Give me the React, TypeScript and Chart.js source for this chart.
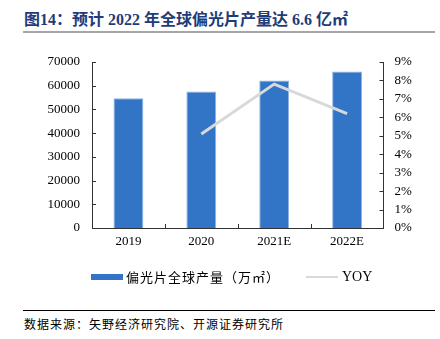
import React, { useEffect, useRef } from "react";
import { Chart, registerables } from "chart.js";

Chart.register(...registerables);

const categories = ["2019", "2020", "2021E", "2022E"];
const production = [54700, 57600, 62200, 66000];
const yoy = [null, 5.1, 7.8, 6.2];
const leftTicks = [0, 10000, 20000, 30000, 40000, 50000, 60000, 70000];
const rightTicks = [0, 1, 2, 3, 4, 5, 6, 7, 8, 9];

const serif = "'Liberation Serif', 'Times New Roman', 'Noto Sans CJK SC', serif";

const innerTicks = {
  id: "innerTicks",
  afterDraw(chart: any) {
    const ctx = chart.ctx;
    const { left, right, bottom } = chart.chartArea;
    ctx.save();
    ctx.strokeStyle = "#333";
    ctx.lineWidth = 1;
    const y = chart.scales.y;
    const y1 = chart.scales.y1;
    const x = chart.scales.x;
    leftTicks.forEach((v) => {
      const p = Math.round(y.getPixelForValue(v)) + 0.5;
      ctx.beginPath();
      ctx.moveTo(left, p);
      ctx.lineTo(left + 4, p);
      ctx.stroke();
    });
    rightTicks.forEach((v) => {
      const p = Math.round(y1.getPixelForValue(v)) + 0.5;
      ctx.beginPath();
      ctx.moveTo(right - 4, p);
      ctx.lineTo(right, p);
      ctx.stroke();
    });
    for (let i = 1; i < categories.length; i++) {
      const a = x.getPixelForValue(i - 1);
      const b = x.getPixelForValue(i);
      const p = Math.round((a + b) / 2) + 0.5;
      ctx.beginPath();
      ctx.moveTo(p, bottom);
      ctx.lineTo(p, bottom - 4);
      ctx.stroke();
    }
    ctx.restore();
  },
};

export default function App() {
  const ref = useRef<HTMLCanvasElement>(null);

  useEffect(() => {
    if (!ref.current) return;
    const chart = new Chart(ref.current, {
      type: "bar",
      data: {
        labels: categories,
        datasets: [
          {
            type: "line",
            label: "YOY",
            data: yoy as any,
            yAxisID: "y1",
            borderColor: "#D9D9D9",
            backgroundColor: "#D9D9D9",
            borderWidth: 3,
            pointRadius: 0,
            tension: 0,
            order: 0,
          } as any,
          {
            type: "bar",
            label: "偏光片全球产量（万㎡）",
            data: production,
            yAxisID: "y",
            backgroundColor: "#3274C5",
            borderColor: "#8FB4E3",
            borderWidth: 1,
            barPercentage: 0.41,
            categoryPercentage: 1,
            order: 1,
          },
        ],
      },
      options: {
        animation: false,
        responsive: false,
        maintainAspectRatio: false,
        layout: { padding: { top: 22, left: 0, right: 0, bottom: 0 } },
        plugins: { legend: { display: false }, tooltip: { enabled: false } },
        scales: {
          x: {
            offset: true,
            grid: { display: false, drawTicks: false },
            border: { display: true, color: "#333", width: 1 },
            ticks: { color: "#000", font: { family: serif, size: 13 }, padding: 6 },
            afterFit: (s: any) => { s.height = 72; },
          },
          y: {
            position: "left",
            min: 0,
            max: 70000,
            afterBuildTicks: (s: any) => { s.ticks = leftTicks.map((v) => ({ value: v })); },
            grid: { display: false, drawTicks: false },
            border: { display: true, color: "#333", width: 1 },
            ticks: {
              color: "#000",
              font: { family: serif, size: 13 },
              padding: 12,
              autoSkip: false,
              callback: (v: any) => String(v),
            },
            afterFit: (s: any) => { s.width = 92; },
          },
          y1: {
            position: "right",
            min: 0,
            max: 9,
            afterBuildTicks: (s: any) => { s.ticks = rightTicks.map((v) => ({ value: v })); },
            grid: { display: false, drawTicks: false },
            border: { display: true, color: "#333", width: 1 },
            ticks: {
              color: "#000",
              font: { family: serif, size: 13 },
              padding: 11,
              autoSkip: false,
              callback: (v: any) => `${v}%`,
            },
            afterFit: (s: any) => { s.width = 56.5; },
          },
        },
      } as any,
      plugins: [innerTicks],
    });
    return () => chart.destroy();
  }, []);

  return (
    <div style={{ position: "absolute", left: 0, top: 0, width: 440, height: 339, background: "#fff", fontFamily: serif }}>
      <div
        style={{
          position: "absolute",
          left: 24,
          top: 9,
          fontSize: 16,
          fontWeight: "bold",
          color: "#1F3C7A",
          whiteSpace: "nowrap",
          lineHeight: "22px",
          fontFamily: "'Liberation Serif', 'Noto Sans CJK SC', serif",
        }}
      >
        图14：预计 2022 年全球偏光片产量达 6.6 亿㎡
      </div>
      <div style={{ position: "absolute", left: 23, top: 31, width: 412, height: 2, background: "#A6A6A6" }} />
      <canvas ref={ref} width={440} height={260} style={{ position: "absolute", left: 0, top: 40, width: 440, height: 260 }} />
      <div style={{ position: "absolute", left: 91, top: 274, width: 32, height: 6, background: "#3274C5" }} />
      <div
        style={{
          position: "absolute",
          left: 126,
          top: 267,
          fontSize: 13,
          lineHeight: "20px",
          letterSpacing: 1,
          whiteSpace: "nowrap",
          color: "#000",
          fontFamily: "'Noto Sans CJK SC', serif",
        }}
      >
        偏光片全球产量（万㎡）
      </div>
      <div style={{ position: "absolute", left: 306, top: 276, width: 32, height: 2, background: "#D9D9D9" }} />
      <div style={{ position: "absolute", left: 342, top: 267, fontSize: 14, lineHeight: "20px", color: "#000", whiteSpace: "nowrap" }}>
        YOY
      </div>
      <div style={{ position: "absolute", left: 23, top: 310, width: 412, height: 1, background: "#000" }} />
      <div
        style={{
          position: "absolute",
          left: 24,
          top: 315,
          fontSize: 12,
          lineHeight: "18px",
          letterSpacing: 1,
          whiteSpace: "nowrap",
          color: "#000",
          fontFamily: "'Noto Sans CJK SC', serif",
        }}
      >
        数据来源：矢野经济研究院、开源证券研究所
      </div>
    </div>
  );
}
